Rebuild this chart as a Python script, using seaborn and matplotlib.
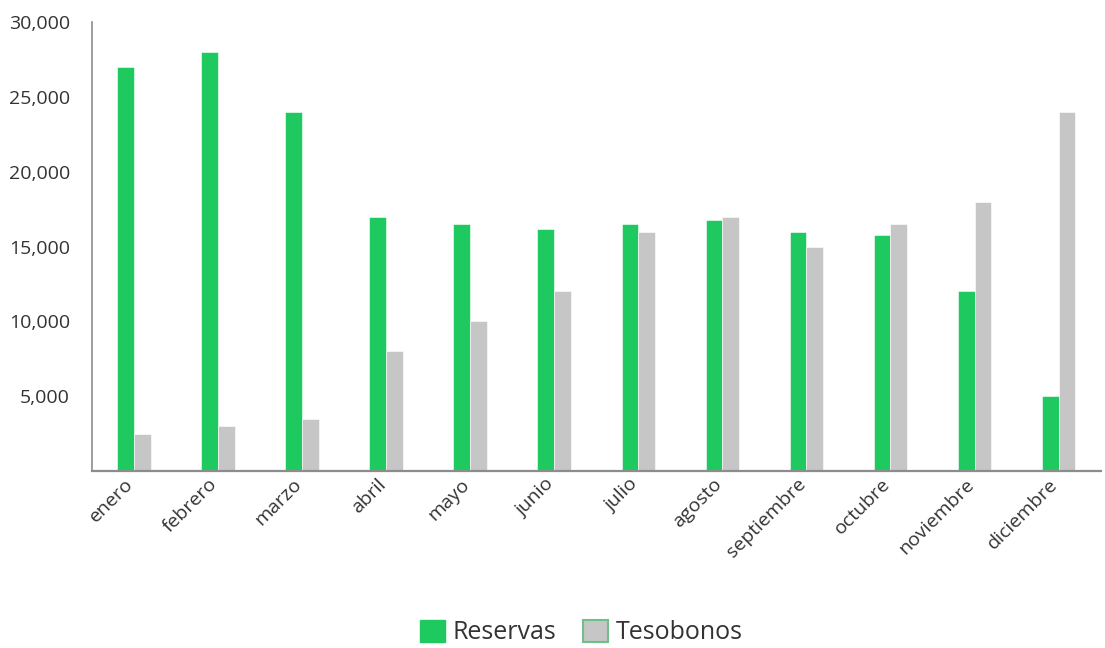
import matplotlib
matplotlib.use("Agg")
import matplotlib.pyplot as plt
import matplotlib.transforms as mtransforms
import seaborn as sns
import pandas as pd
from matplotlib.ticker import FuncFormatter, FixedLocator
from matplotlib.patches import Patch

months = ["enero", "febrero", "marzo", "abril", "mayo", "junio", "julio",
          "agosto", "septiembre", "octubre", "noviembre", "diciembre"]
reservas = [27000, 28000, 24000, 17000, 16500, 16200, 16500, 16800, 16000, 15800, 12000, 5000]
tesobonos = [2500, 3000, 3500, 8000, 10000, 12000, 16000, 17000, 15000, 16500, 18000, 24000]
series_names = ["Reservas", "Tesobonos"]
colors = ["#1ec95f", "#c6c6c6"]
yticks = [5000, 10000, 15000, 20000, 25000, 30000]

df = pd.DataFrame({
    "mes": months * 2,
    "valor": reservas + tesobonos,
    "serie": [series_names[0]] * len(months) + [series_names[1]] * len(months),
})

sns.set_theme(style="white")
plt.rcParams["font.family"] = ["Open Sans", "DejaVu Sans"]
text_color = "#333333"
axis_color = "#8c8c8c"

fig = plt.figure(figsize=(11.05, 6.48), dpi=100)
ax = fig.add_axes([0.0833, 0.273, 0.9127, 0.693])

sns.barplot(data=df, x="mes", y="valor", hue="serie", palette=colors,
            width=0.4, ax=ax, legend=False, edgecolor="white", linewidth=0.4,
            saturation=1)

ax.set_xlim(-0.5, len(months) - 0.5)
ax.set_ylim(0, 30000)
ax.set_xlabel("")
ax.set_ylabel("")

ax.set_yticks(yticks)
ax.yaxis.set_major_formatter(FuncFormatter(lambda v, p: f"{int(v):,}"))
ax.tick_params(axis="y", which="major", length=5, width=0.8, color="#dddddd",
               labelsize=14, labelcolor=text_color, pad=11)

ax.set_xticks(range(len(months)))
ax.set_xticklabels(months, rotation=45, ha="right", rotation_mode="anchor")
ax.tick_params(axis="x", which="major", length=0, labelsize=14,
               labelcolor=text_color, pad=3)
offset = mtransforms.ScaledTranslation(-7 / 72, 0, fig.dpi_scale_trans)
for lbl in ax.get_xticklabels():
    lbl.set_transform(lbl.get_transform() + offset)
ax.xaxis.set_minor_locator(FixedLocator([i - 0.5 for i in range(len(months) + 1)]))
ax.tick_params(axis="x", which="minor", length=6, width=0.8, color="#dddddd")

for s in ["top", "right"]:
    ax.spines[s].set_visible(False)
ax.spines["left"].set_color(axis_color)
ax.spines["bottom"].set_color(axis_color)
ax.spines["left"].set_linewidth(1.2)
ax.spines["bottom"].set_linewidth(1.6)

handles = [Patch(facecolor=colors[0], edgecolor=colors[0]),
           Patch(facecolor=colors[1], edgecolor="#6fbf8a", linewidth=1.5)]
fig.legend(handles, series_names, loc="center", bbox_to_anchor=(0.526, 0.024),
           ncol=2, frameon=False, fontsize=18, labelcolor=text_color,
           handlelength=1.0, handleheight=1.0, handletextpad=0.3,
           columnspacing=1.1, borderpad=0.1)

fig.savefig("out.png", dpi=100)
